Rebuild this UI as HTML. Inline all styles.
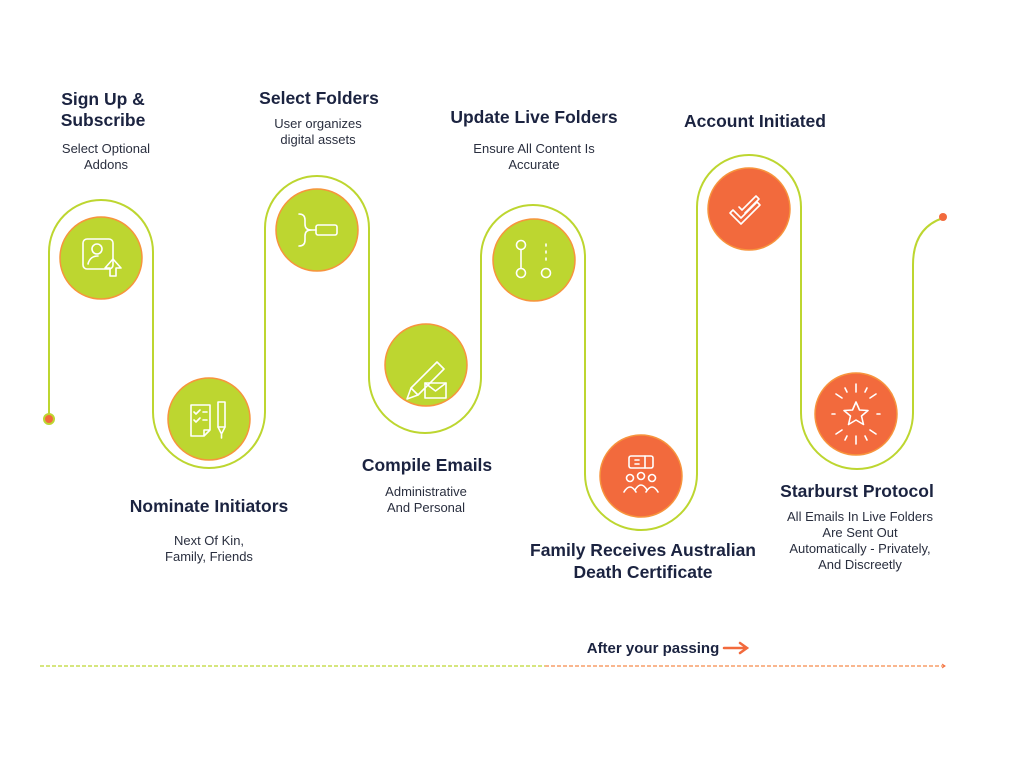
<!DOCTYPE html>
<html><head><meta charset="utf-8"><style>
body{margin:0;background:#fff;}
svg{display:block}
.t{font-family:"Liberation Sans",sans-serif;font-weight:bold;font-size:17.5px;fill:#1b2340;text-anchor:middle}
.s{font-family:"Liberation Sans",sans-serif;font-size:13px;fill:#2a2f3f;text-anchor:middle}
.ic{fill:none;stroke:#fff;stroke-width:1.6;stroke-linecap:round;stroke-linejoin:round}
</style></head><body>
<svg width="1024" height="768" viewBox="0 0 1024 768">
<path d="M49 418 V252 A52 52 0 0 1 153 252 V412 A56 56 0 0 0 265 412 V228 A52 52 0 0 1 369 228 V377 A56 56 0 0 0 481 377 V257 A52 52 0 0 1 585 257 V474 A56 56 0 0 0 697 474 V207 A52 52 0 0 1 801 207 V413 A56 56 0 0 0 913 413 V265 Q913 228 943 218" fill="none" stroke="#bdd630" stroke-width="2"/>
<circle cx="49" cy="419" r="5" fill="#f26a3d" stroke="#bdd630" stroke-width="2"/>
<circle cx="943" cy="217" r="4" fill="#f26a3d"/>
<g stroke="#f7943d" stroke-width="1.5">
<circle cx="101" cy="258" r="41" fill="#bdd630"/>
<circle cx="209" cy="419" r="41" fill="#bdd630"/>
<circle cx="317" cy="230" r="41" fill="#bdd630"/>
<circle cx="426" cy="365" r="41" fill="#bdd630"/>
<circle cx="534" cy="260" r="41" fill="#bdd630"/>
<circle cx="641" cy="476" r="41" fill="#f26a3d"/>
<circle cx="749" cy="209" r="41" fill="#f26a3d"/>
<circle cx="856" cy="414" r="41" fill="#f26a3d"/>
</g>
<g class="ic">
<rect x="83" y="239" width="30" height="30" rx="4"/><circle cx="97" cy="249" r="5"/><path d="M88 264 q2-8 10-8"/><path d="M110 276 V268 H105 L113 259 L121 268 H116 V276Z"/>
<path d="M191 405 H210 V430 L204 436 H191Z M204 436 V430 H210"/><path d="M194 412 l2 2 4-4 M203 412 h4 M194 420 l2 2 4-4 M203 420 h4"/><rect x="218" y="402" width="7" height="25"/><path d="M218 427 l3 6 l1-0 3-6 M221.5 433 v5"/>
<path d="M299 214 q6 0 6 6 v4 q0 6 6 6 q-6 0 -6 6 v4 q0 6 -6 6"/><rect x="316" y="225" width="21" height="10" rx="2"/><path d="M311 230 h5"/>
<path d="M407 399 L411 388 L437 362 L444 369 L418 395Z M411 388 l7 7"/><rect x="425" y="383" width="21" height="15"/><path d="M425 383 l10.5 8 10.5-8"/>
<circle cx="521" cy="245" r="4.5"/><circle cx="521" cy="273" r="4.5"/><path d="M521 250 v18"/><circle cx="546" cy="273" r="4.5"/><path d="M546 244 v2 M546 251 v2 M546 258 v2"/>
<rect x="629" y="456" width="24" height="12" rx="2"/><path d="M635 460 h4 M635 464 h4 M645 456 v12"/><circle cx="630" cy="478" r="3.5"/><circle cx="641" cy="476" r="3.5"/><circle cx="652" cy="478" r="3.5"/><path d="M624 492 q6-10 12 0 M635 490 q6-10 12 0 M646 492 q6-10 12 0"/>
<path d="M730 213 l3-3 l8 8 l16-16 l3 3 l-19 19z"/><path d="M739 207 l3 3 l14-14 l3 3 l-14 14"/>
<path d="M856 402 l3.5 8 8.5 0.5 -6.5 5.5 2 8.5 -7.5-4.5 -7.5 4.5 2-8.5 -6.5-5.5 8.5-0.5z"/><path d="M856 384 v8 M856 436 v8 M836 394 l6 4 M876 394 l-6 4 M836 434 l6-4 M876 434 l-6-4 M845 388 l2 4 M867 388 l-2 4 M845 440 l2-4 M867 440 l-2-4 M832 414 h3 M880 414 h-3"/>
</g>
<text class="t" x="103" y="105">Sign Up &amp;</text><text class="t" x="103" y="126">Subscribe</text>
<text class="s" x="106" y="153">Select Optional</text><text class="s" x="106" y="169">Addons</text>
<text class="t" x="319" y="104">Select Folders</text>
<text class="s" x="318" y="128">User organizes</text><text class="s" x="318" y="144">digital assets</text>
<text class="t" x="534" y="123">Update Live Folders</text>
<text class="s" x="534" y="153">Ensure All Content Is</text><text class="s" x="534" y="169">Accurate</text>
<text class="t" x="755" y="127">Account Initiated</text>
<text class="t" x="209" y="512">Nominate Initiators</text>
<text class="s" x="209" y="545">Next Of Kin,</text><text class="s" x="209" y="561">Family, Friends</text>
<text class="t" x="427" y="471">Compile Emails</text>
<text class="s" x="426" y="496">Administrative</text><text class="s" x="426" y="512">And Personal</text>
<text class="t" x="643" y="556">Family Receives Australian</text><text class="t" x="643" y="578">Death Certificate</text>
<text class="t" x="857" y="497">Starburst Protocol</text>
<text class="s" x="860" y="521">All Emails In Live Folders</text><text class="s" x="860" y="537">Are Sent Out</text><text class="s" x="860" y="553">Automatically - Privately,</text><text class="s" x="860" y="569">And Discreetly</text>
<text class="t" x="653" y="653" style="font-size:15px">After your passing</text>
<path d="M724 648 H746 M740 643 L747 648 L740 653" fill="none" stroke="#f26a3d" stroke-width="2.5" stroke-linecap="round"/>
<path d="M40 666 H545" stroke="#bdd630" stroke-width="1.2" stroke-dasharray="4 2"/>
<path d="M545 666 H944" stroke="#f58a4a" stroke-width="1.2" stroke-dasharray="4 2"/>
<path d="M942 664 l3 2 -3 2" fill="none" stroke="#f26a3d"/>
</svg>
</body></html>
